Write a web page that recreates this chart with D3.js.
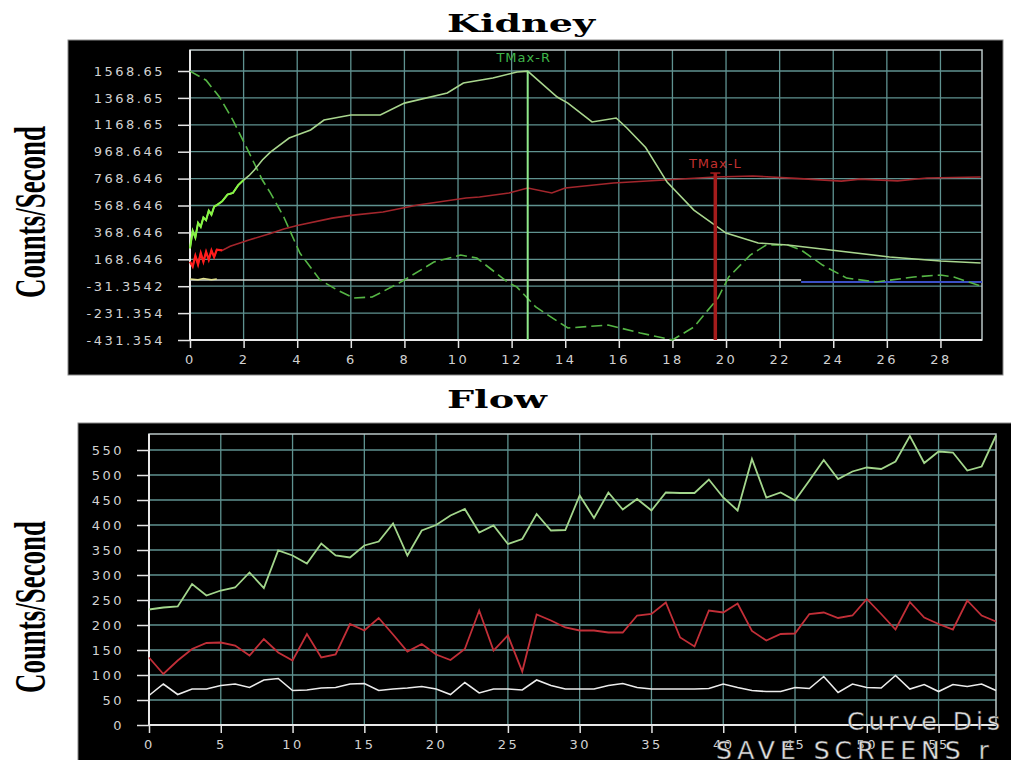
<!DOCTYPE html>
<html>
<head>
<meta charset="utf-8">
<script src="https://cdn.jsdelivr.net/npm/d3@7"></script>
<style>
  body { margin: 0; background: #fff; }
  text { font-family: "DejaVu Sans", sans-serif; }
  .tick text { fill: #d2d2d2; font-size: 13px; letter-spacing: 2.5px; }
  .tick line { stroke: #e4e4e4; }
</style>
</head>
<body>
<svg id="chart" width="1011" height="760"></svg>
<script>
// ---- Kidney panel (renogram) ----
var kidYTicks = [1568.65, 1368.65, 1168.65, 968.646, 768.646, 568.646, 368.646, 168.646, -31.3542, -231.354, -431.354];
var kidYLabels = ["1568.65", "1368.65", "1168.65", "968.646", "768.646", "568.646", "368.646", "168.646", "-31.3542", "-231.354", "-431.354"];
var kidXTicks = [0, 2, 4, 6, 8, 10, 12, 14, 16, 18, 20, 22, 24, 26, 28];

// right kidney (light green, solid)
var rightT = [0, 0.1, 0.2, 0.3, 0.4, 0.5, 0.6, 0.7, 0.8, 0.9, 1.0, 1.2, 1.4, 1.6, 1.8, 2.0, 2.2, 2.4, 2.7, 3.0, 3.7, 4.5, 5.0, 6.0, 7.1, 8.0, 9.6, 10.2, 11.3, 12.2, 12.6, 13.7, 14.1, 15.0, 15.9, 16.3, 17.0, 17.8, 18.8, 20.0, 21.2, 22.3, 23.9, 26.1, 28.0, 29.5];
var rightV = [250, 380, 330, 440, 410, 480, 460, 530, 500, 560, 572, 600, 650, 662, 720, 758, 790, 832, 907, 966, 1070, 1130, 1204, 1241, 1241, 1330, 1405, 1479, 1516, 1561, 1568, 1375, 1330, 1190, 1219, 1145, 1000, 743, 535, 364, 290, 275, 238, 186, 156, 141];

// left kidney (red)
var leftT = [0, 0.1, 0.2, 0.3, 0.4, 0.5, 0.6, 0.7, 0.8, 0.9, 1.0, 1.2, 1.5, 2.2, 3.0, 3.5, 4.0, 5.3, 6.0, 7.2, 8.5, 10.3, 10.8, 11.9, 12.6, 13.5, 14.0, 15.8, 17.7, 19.6, 21.0, 22.6, 24.3, 25.0, 26.4, 27.5, 29.5];
var leftV = [150, 115, 195, 130, 215, 150, 225, 165, 235, 185, 240, 235, 265, 312, 360, 394, 420, 475, 495, 520, 572, 624, 632, 662, 699, 662, 699, 736, 758, 780, 788, 770, 750, 765, 752, 773, 780];

// dashed green curve
var dashT = [0, 0.6, 1.1, 1.6, 2.1, 2.7, 3.0, 3.5, 4.1, 4.85, 5.5, 6.1, 6.8, 7.8, 9.1, 10.1, 10.7, 11.9, 12.2, 12.9, 14.1, 15.6, 16.8, 18.0, 18.8, 19.7, 20.1, 20.9, 21.5, 22.3, 22.8, 23.6, 24.5, 25.6, 27.0, 28.0, 28.5, 29.5];
var dashV = [1568, 1500, 1375, 1204, 1004, 758, 662, 483, 215, 15, -60, -119, -112, -8, 148, 200, 178, -8, -38, -186, -342, -320, -379, -431, -335, -119, 37, 200, 275, 275, 238, 126, 29, 0, 37, 52, 37, -30];

// background lines
var baseT = [0, 22.8], baseV = [15, 15];
var blueT = [22.8, 29.55], blueV = [0, 0];
var noiseT = [0, 0.3, 0.5, 0.8, 1.0], noiseV = [22, 16, 26, 17, 22];

var tmaxR = {t: 12.6, top: 1568, label: "TMax-R"};
var tmaxL = {t: 19.6, top: 810, label: "TMax-L"};

// ---- Flow panel ----
var flowYTicks = [0, 50, 100, 150, 200, 250, 300, 350, 400, 450, 500, 550];
var flowXTicks = [0, 5, 10, 15, 20, 25, 30, 35, 40, 45, 50, 55];
var flowGreen = [231, 235, 237, 282, 259, 269, 275, 305, 274, 349, 339, 323, 363, 339, 335, 359, 367, 403, 339, 389,
                 400, 419, 432, 385, 399, 362, 372, 422, 389, 390, 459, 414, 465, 431, 452, 429, 465, 464, 464, 491,
                 455, 429, 532, 455, 465, 449, 489, 530, 492, 507, 515, 512, 527, 578, 524, 547, 545, 509, 517, 579];
var flowRed = [135, 102, 129, 152, 164, 165, 159, 139, 172, 145, 129, 182, 135, 141, 202, 189, 214, 181, 147, 162,
               141, 130, 152, 229, 149, 179, 107, 221, 209, 195, 189, 189, 185, 185, 219, 222, 245, 175, 157, 229,
               225, 243, 188, 169, 182, 183, 222, 225, 214, 219, 252, 222, 191, 246, 215, 202, 191, 249, 219, 207];
var flowWhite = [59, 82, 61, 72, 72, 79, 82, 75, 90, 93, 69, 70, 74, 75, 82, 83, 69, 72, 74, 77,
                 72, 61, 85, 64, 72, 72, 70, 90, 79, 72, 72, 72, 79, 83, 75, 72, 72, 72, 72, 73,
                 82, 75, 69, 67, 67, 75, 73, 97, 65, 82, 75, 74, 99, 72, 81, 67, 81, 77, 82, 69];

var svg = d3.select("#chart");

function drawPanel(p) {
    var g = svg.append("g");

    g.append("rect")
        .attr("x", p.box[0]).attr("y", p.box[1])
        .attr("width", p.box[2]).attr("height", p.box[3])
        .attr("fill", "#000")
        .attr("stroke", "#8a8a8a");

    var x = d3.scaleLinear().domain(p.xDomain).range([p.left, p.right]);
    var y = d3.scaleLinear().domain(p.yDomain).range([p.bottom, p.top]);

    // grid
    g.selectAll(".hgrid").data(p.yTicks).enter().append("line")
        .attr("x1", p.left).attr("x2", p.right)
        .attr("y1", d => y(d)).attr("y2", d => y(d))
        .attr("stroke", "#5f9290").attr("stroke-width", 1.3);
    g.selectAll(".vgrid").data(p.xTicks).enter().append("line")
        .attr("x1", d => x(d)).attr("x2", d => x(d))
        .attr("y1", p.top).attr("y2", p.bottom)
        .attr("stroke", "#5f9290").attr("stroke-width", 1.3);

    // frame
    g.append("rect")
        .attr("x", p.left).attr("y", p.top)
        .attr("width", p.right - p.left).attr("height", p.bottom - p.top)
        .attr("fill", "none").attr("stroke", "#b9c6c6").attr("stroke-width", 1.5);
    g.append("line").attr("x1", p.left).attr("x2", p.left).attr("y1", p.top).attr("y2", p.bottom)
        .attr("stroke", "#e8e8e8").attr("stroke-width", 2);
    g.append("line").attr("x1", p.left).attr("x2", p.right).attr("y1", p.bottom).attr("y2", p.bottom)
        .attr("stroke", "#e8e8e8").attr("stroke-width", 2);

    g.append("g")
        .attr("transform", `translate(${p.left},0)`)
        .call(d3.axisLeft(y).tickValues(p.yTicks).tickFormat(p.yFormat).tickSize(12).tickPadding(13))
        .call(a => a.select(".domain").remove())
        .selectAll("line").attr("stroke-width", 1.5);

    g.append("g")
        .attr("transform", `translate(0,${p.bottom})`)
        .call(d3.axisBottom(x).tickValues(p.xTicks).tickSize(8).tickPadding(7))
        .call(a => a.select(".domain").remove())
        .selectAll("line").attr("stroke-width", 1.5);

    // titles
    svg.append("text")
        .attr("x", p.titleX).attr("y", p.titleY)
        .attr("textLength", p.titleLen).attr("lengthAdjust", "spacingAndGlyphs")
        .style("font-family", "'DejaVu Serif', serif").style("font-weight", "bold")
        .style("font-size", "25px").attr("fill", "#000")
        .text(p.title);

    svg.append("text")
        .attr("transform", `translate(45,${p.labelY}) rotate(-90)`)
        .attr("text-anchor", "middle")
        .attr("textLength", 172).attr("lengthAdjust", "spacingAndGlyphs")
        .style("font-family", "'Liberation Serif', serif").style("font-weight", "bold")
        .style("font-size", "44px").attr("fill", "#000")
        .text("Counts/Second");

    return {g: g, x: x, y: y};
}

function series(ts, vs) {
    return ts.map((t, i) => ({t: t, v: vs[i]}));
}

// ===== Kidney =====
var kid = drawPanel({
    box: [68, 40, 935, 335],
    left: 190, right: 982, top: 50, bottom: 340,
    xDomain: [0, 29.55], yDomain: [-431.354, 1724.8],
    xTicks: kidXTicks, yTicks: kidYTicks,
    yFormat: (d, i) => kidYLabels[i],
    title: "Kidney", titleX: 447, titleY: 32, titleLen: 148,
    labelY: 212
});

var kLine = d3.line().x(d => kid.x(d.t)).y(d => kid.y(d.v));

kid.g.append("path").attr("d", kLine(series(baseT, baseV)))
    .attr("fill", "none").attr("stroke", "#cfd6d0").attr("stroke-width", 1.5);
kid.g.append("path").attr("d", kLine(series(blueT, blueV)))
    .attr("fill", "none").attr("stroke", "#3b4fc4").attr("stroke-width", 1.8);
kid.g.append("path").attr("d", kLine(series(noiseT, noiseV)))
    .attr("fill", "none").attr("stroke", "#e0e090").attr("stroke-width", 1.5);

kid.g.append("path").attr("d", kLine(series(dashT, dashV)))
    .attr("fill", "none").attr("stroke", "#55b545").attr("stroke-width", 1.6)
    .attr("stroke-dasharray", "11,5");

kid.g.append("path").attr("d", kLine(series(leftT, leftV)))
    .attr("fill", "none").attr("stroke", "#a3262c").attr("stroke-width", 1.6);
kid.g.append("path").attr("d", kLine(series(leftT.slice(0, 12), leftV.slice(0, 12))))
    .attr("fill", "none").attr("stroke", "#ff1c1c").attr("stroke-width", 2.2);

kid.g.append("path").attr("d", kLine(series(rightT, rightV)))
    .attr("fill", "none").attr("stroke", "#a9d68e").attr("stroke-width", 1.6);
kid.g.append("path").attr("d", kLine(series(rightT.slice(0, 16), rightV.slice(0, 16))))
    .attr("fill", "none").attr("stroke", "#86f542").attr("stroke-width", 2);

// TMax markers
kid.g.append("line")
    .attr("x1", kid.x(tmaxR.t)).attr("x2", kid.x(tmaxR.t))
    .attr("y1", kid.y(tmaxR.top)).attr("y2", kid.y(-431.354))
    .attr("stroke", "#8fe98a").attr("stroke-width", 2);
kid.g.append("text")
    .attr("x", kid.x(tmaxR.t) - 4).attr("y", 62)
    .attr("text-anchor", "middle")
    .style("font-size", "13px").style("letter-spacing", "1px")
    .attr("fill", "#3fb44a").text(tmaxR.label);

kid.g.append("line")
    .attr("x1", kid.x(tmaxL.t)).attr("x2", kid.x(tmaxL.t))
    .attr("y1", kid.y(tmaxL.top)).attr("y2", kid.y(-431.354))
    .attr("stroke", "#a51c1c").attr("stroke-width", 3.5);
kid.g.append("line")
    .attr("x1", kid.x(tmaxL.t) - 5).attr("x2", kid.x(tmaxL.t) + 5)
    .attr("y1", kid.y(tmaxL.top)).attr("y2", kid.y(tmaxL.top))
    .attr("stroke", "#a51c1c").attr("stroke-width", 1.5);
kid.g.append("text")
    .attr("x", kid.x(tmaxL.t)).attr("y", 168)
    .attr("text-anchor", "middle")
    .style("font-size", "13px").style("letter-spacing", "1px")
    .attr("fill", "#c2302f").text(tmaxL.label);

// ===== Flow =====
var flow = drawPanel({
    box: [78, 423, 940, 345],
    left: 149, right: 996, top: 434, bottom: 725,
    xDomain: [0, 59], yDomain: [0, 582],
    xTicks: flowXTicks, yTicks: flowYTicks,
    yFormat: d3.format("d"),
    title: "Flow", titleX: 447, titleY: 408, titleLen: 100,
    labelY: 607
});

var fLine = d3.line().x((d, i) => flow.x(i)).y(d => flow.y(d));

flow.g.append("path").attr("d", fLine(flowWhite))
    .attr("fill", "none").attr("stroke", "#ececec").attr("stroke-width", 1.6);
flow.g.append("path").attr("d", fLine(flowRed))
    .attr("fill", "none").attr("stroke", "#c22f38").attr("stroke-width", 1.8);
flow.g.append("path").attr("d", fLine(flowGreen))
    .attr("fill", "none").attr("stroke", "#a3d68c").attr("stroke-width", 1.8);

// screen overlay text (cut at the right edge like the screenshot)
svg.append("text")
    .attr("x", 847).attr("y", 730)
    .style("font-size", "25px").style("letter-spacing", "4px")
    .attr("fill", "#e2e2e2").attr("stroke", "#333").attr("stroke-width", 0.5)
    .text("Curve Dis");
svg.append("text")
    .attr("x", 716).attr("y", 759)
    .style("font-size", "25px").style("letter-spacing", "5px")
    .attr("fill", "#e2e2e2").attr("stroke", "#333").attr("stroke-width", 0.5)
    .text("SAVE  SCREENS  r");
</script>
</body>
</html>
